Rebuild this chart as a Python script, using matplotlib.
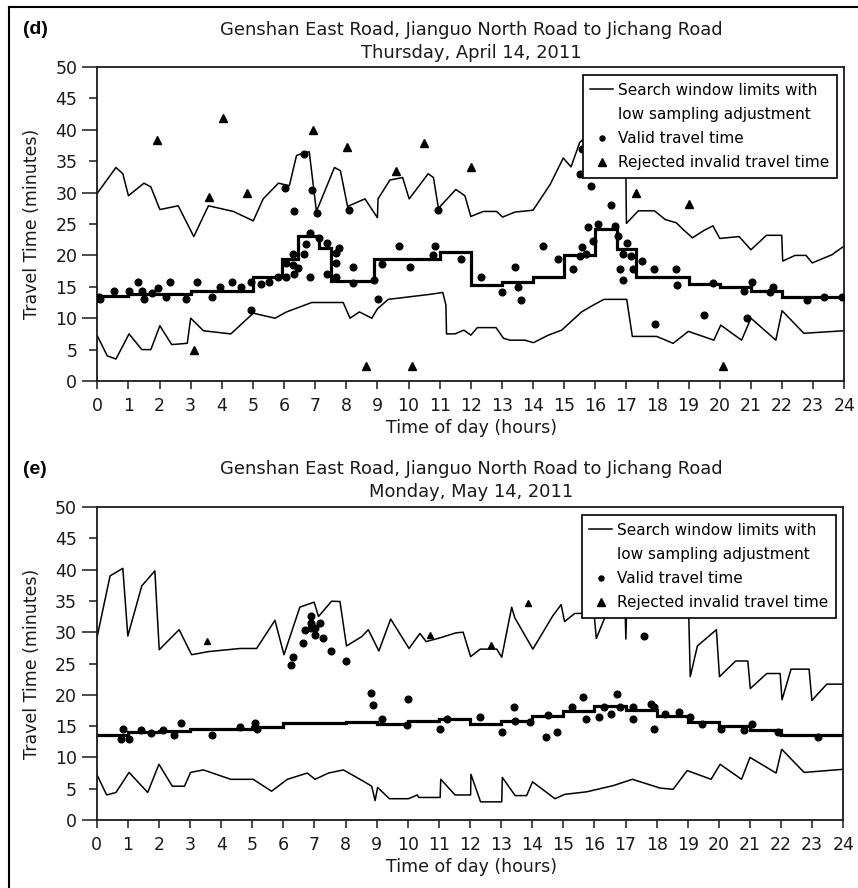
import matplotlib
matplotlib.use("Agg")
import matplotlib.pyplot as plt
from matplotlib.lines import Line2D

plt.rcParams['font.family'] = ['DejaVu Sans']
plt.rcParams['font.size'] = 12.5

# ---------------- Panel (d): Thursday, April 14, 2011 ----------------
d_upper_x = [0, 0.6, 0.82, 1.0, 1.5, 1.72, 2.01, 2.6, 3.1, 3.57,
             4.37, 5.01, 5.33, 5.82, 6.17, 6.4, 6.62, 6.81, 7.04, 7.62,
             7.81, 8.04, 8.6, 9.0, 9.02, 9.4, 9.81, 10.02, 10.63, 10.8,
             10.96, 11.52, 11.81, 12.0, 12.4, 12.83, 13.02, 13.42, 14.0, 14.55,
             14.97, 15.22, 15.5, 15.75, 16.2, 16.6, 16.97, 17.0, 17.38, 17.9,
             18.25, 18.6, 18.85, 19.12, 19.5, 19.78, 20.0, 20.62, 21.0, 21.5,
             21.99, 22.02, 22.42, 22.77, 22.97, 23.6, 24.0]
d_upper_y = [29.9, 34.0, 33.0, 29.5, 31.5, 30.9, 27.3, 27.9, 23.0, 27.9,
             27.0, 25.5, 29.0, 31.5, 31.1, 35.9, 36.3, 36.5, 27.0, 34.0,
             33.5, 27.8, 29.0, 26.0, 29.0, 32.0, 32.4, 29.0, 33.0, 32.4,
             27.5, 30.5, 29.5, 26.2, 27.0, 27.0, 26.1, 26.9, 27.2, 31.3,
             35.5, 34.1, 38.0, 39.0, 40.0, 40.5, 38.5, 25.1, 27.1, 27.1,
             25.7, 25.2, 24.0, 22.8, 24.0, 24.7, 22.7, 23.0, 20.9, 23.2,
             23.2, 19.1, 20.0, 20.0, 18.8, 20.1, 21.5]

d_lower_x = [0, 0.32, 0.6, 1.02, 1.43, 1.72, 2.01, 2.39, 2.89, 3.0,
             3.41, 4.29, 5.01, 5.71, 6.08, 6.46, 6.89, 7.9, 8.12, 8.42,
             8.82, 9.0, 9.35, 10.69, 11.1, 11.2, 11.22, 11.49, 11.78, 12.0,
             12.21, 12.81, 13.05, 13.26, 13.74, 14.01, 14.49, 14.92, 15.56, 15.94,
             16.28, 17.01, 17.19, 17.97, 18.5, 18.99, 19.81, 20.03, 20.7, 21.0,
             21.8, 22.0, 22.7, 24.0]
d_lower_y = [7.2, 4.0, 3.5, 7.5, 5.0, 5.0, 8.8, 5.8, 6.0, 10.0,
             8.0, 7.5, 10.8, 10.0, 11.0, 11.7, 12.5, 12.5, 10.0, 11.0,
             10.0, 11.5, 13.0, 13.8, 14.1, 12.1, 7.5, 7.5, 8.1, 7.3,
             8.5, 8.5, 6.8, 6.5, 6.5, 6.1, 7.3, 8.1, 11.0, 12.1,
             13.0, 13.0, 7.1, 7.1, 6.0, 7.9, 6.5, 8.9, 6.5, 10.0,
             6.5, 11.2, 7.6, 8.0]

d_step_edges = [0, 1, 3, 5, 5.92, 6.45, 7.12, 7.52, 8.9, 11, 12,
                13, 14, 15, 16, 16.7, 17.3, 19, 20, 21, 22, 24]
d_step_vals = [13.5, 13.85, 14.4, 16.6, 19.4, 23.1, 21.2, 16.0, 19.4, 20.5,
               15.3, 15.7, 16.5, 20.1, 24.2, 21.0, 16.5, 15.5, 14.9, 14.3, 13.4]

d_valid_x = [0.06, 0.1, 0.54, 1.03, 1.32, 1.43, 1.5, 1.75, 1.94, 2.2,
             2.34, 2.84, 3.19, 3.7, 3.94, 4.32, 4.61, 4.93, 4.93, 5.25,
             5.53, 5.82, 6.05, 6.05, 6.03, 6.28, 6.28, 6.32, 6.32, 6.44,
             6.65, 6.64, 6.71, 6.83, 6.83, 6.91, 7.05, 7.12, 7.39, 7.39,
             7.67, 7.67, 7.67, 7.78, 8.1, 8.23, 8.23, 8.89, 9.03, 9.14,
             9.7, 10.05, 10.8, 10.85, 10.96, 11.69, 12.33, 13.01, 13.42, 13.53,
             13.61, 14.31, 14.81, 15.27, 15.51, 15.58, 15.7, 15.92, 15.56, 15.51,
             15.85, 16.5, 15.78, 16.1, 16.63, 16.72, 16.79, 16.88, 16.88, 17.01,
             17.15, 17.22, 17.49, 17.89, 17.92, 18.59, 18.64, 19.49, 19.79, 20.79,
             20.86, 21.02, 21.61, 21.7, 22.79, 23.36, 23.94]
d_valid_y = [13.4, 13.0, 14.4, 14.4, 15.8, 14.4, 13.1, 14.0, 14.8, 13.4,
             15.8, 13.1, 15.7, 13.4, 14.9, 15.8, 14.9, 15.8, 11.3, 15.4,
             15.8, 16.6, 16.6, 18.8, 30.8, 20.3, 18.5, 17.1, 27.1, 18.0,
             20.2, 36.1, 21.8, 16.6, 23.6, 30.4, 26.7, 22.7, 21.9, 17.0,
             20.4, 18.8, 16.6, 21.1, 27.3, 18.1, 15.6, 16.1, 13.1, 18.7,
             21.5, 18.2, 20.1, 21.5, 27.3, 19.5, 16.5, 14.1, 18.1, 14.9,
             12.9, 21.5, 19.5, 17.9, 19.9, 21.4, 20.3, 22.3, 36.9, 33.0,
             31.1, 28.0, 24.6, 25.0, 24.7, 23.1, 17.9, 20.2, 16.1, 21.9,
             19.9, 17.9, 19.1, 17.9, 9.0, 17.9, 15.3, 10.5, 15.6, 14.4,
             10.1, 15.8, 14.1, 14.9, 12.9, 13.3, 13.3]

d_rej_x = [1.91, 3.6, 4.03, 4.8, 6.92, 8.01, 9.6, 10.5, 12.0, 17.31,
           19.0, 3.11, 8.62, 10.1, 20.09]
d_rej_y = [38.4, 29.3, 41.8, 30.0, 39.9, 37.3, 33.5, 37.9, 34.1, 30.0,
           28.2, 4.9, 2.4, 2.4, 2.4]

# ---------------- Panel (e): Monday, May 14, 2011 ----------------
e_upper_x = [0.02, 0.43, 0.84, 1.0, 1.45, 1.87, 2.01, 2.65, 3.05, 3.59,
             4.61, 5.14, 5.73, 6.02, 6.53, 6.99, 7.13, 7.55, 7.82, 8.03,
             8.52, 8.73, 9.07, 9.45, 10.04, 10.39, 10.59, 11.04, 11.55, 11.78,
             12.02, 12.33, 12.86, 13.02, 13.34, 13.44, 14.02, 14.66, 14.93, 15.04,
             15.37, 15.75, 15.97, 16.06, 16.34, 16.6, 16.98, 17.01, 17.04, 19.02,
             19.08, 19.31, 19.92, 20.02, 20.54, 20.93, 21.01, 21.54, 21.97, 22.03,
             22.32, 22.9, 22.99, 23.47, 24.0]
e_upper_y = [29.4, 39.0, 40.2, 29.4, 37.4, 39.8, 27.2, 30.4, 26.4, 26.9,
             27.4, 27.4, 31.9, 26.4, 34.0, 34.8, 32.5, 34.95, 34.9, 27.8,
             29.3, 30.4, 27.0, 32.1, 27.4, 29.8, 28.5, 29.1, 29.9, 30.0,
             26.1, 27.3, 27.3, 26.0, 34.0, 32.3, 27.3, 32.6, 34.4, 31.7,
             33.0, 33.0, 34.0, 29.0, 32.4, 35.0, 35.0, 28.9, 35.0, 35.0,
             22.9, 27.8, 30.4, 22.9, 25.4, 25.4, 21.0, 23.4, 23.4, 19.2,
             24.1, 24.1, 19.1, 21.7, 21.7]

e_lower_x = [0, 0.32, 0.62, 1.04, 1.64, 2.0, 2.43, 2.82, 3.02, 3.43,
             4.31, 5.03, 5.62, 6.13, 6.77, 7.02, 7.45, 7.93, 8.57, 8.84,
             8.95, 9.03, 9.41, 10.02, 10.31, 10.35, 11.04, 11.06, 11.52, 12.02,
             12.03, 12.34, 13.02, 13.04, 13.45, 13.82, 14.01, 14.73, 15.05, 15.75,
             16.61, 17.22, 18.11, 18.53, 18.98, 19.75, 20.04, 20.73, 21.0, 21.84,
             22.02, 22.74, 24.0]
e_lower_y = [7.3, 4.0, 4.4, 7.6, 4.4, 8.9, 5.4, 5.4, 7.6, 8.0,
             6.5, 6.5, 4.6, 6.5, 7.5, 6.5, 7.5, 8.0, 6.2, 5.4,
             3.1, 5.2, 3.4, 3.4, 4.0, 3.6, 3.6, 6.5, 4.0, 4.0,
             7.3, 2.9, 2.9, 6.8, 3.9, 3.9, 6.1, 3.4, 4.1, 4.5,
             5.5, 6.5, 5.1, 4.9, 7.9, 6.5, 8.9, 6.5, 10.0, 7.5,
             11.3, 7.6, 8.1]

e_step_edges = [0, 1, 2, 3, 5, 6, 8, 9, 10, 11, 12,
                13, 14, 15, 16, 17, 18, 19, 20, 21, 22, 24]
e_step_vals = [13.6, 14.0, 14.2, 14.5, 14.9, 15.5, 15.6, 15.3, 15.8, 16.1,
               15.4, 15.8, 16.6, 17.4, 18.2, 17.5, 16.6, 15.6, 15.0, 14.4, 13.6]

e_valid_x = [0.78, 0.86, 1.05, 1.41, 1.74, 2.14, 2.48, 2.7, 3.7, 4.61,
             5.09, 5.16, 6.25, 6.32, 6.62, 6.7, 6.89, 6.89, 6.89, 7.02,
             7.02, 7.18, 7.28, 7.52, 8.01, 8.81, 8.89, 9.16, 9.96, 10.02,
             11.04, 11.25, 12.32, 13.02, 13.42, 13.45, 13.92, 14.44, 14.52, 14.81,
             15.29, 15.64, 15.73, 16.15, 16.31, 16.52, 16.73, 16.82, 17.23, 17.23,
             17.6, 17.81, 17.91, 17.91, 18.27, 18.72, 19.07, 19.45, 20.06, 20.82,
             21.05, 21.91, 23.18]
e_valid_y = [12.9, 14.5, 12.9, 14.4, 13.9, 14.3, 13.6, 15.5, 13.6, 14.9,
             15.5, 14.5, 24.7, 26.1, 28.3, 30.4, 32.6, 31.4, 30.7, 30.7,
             29.5, 31.4, 29.1, 27.0, 25.4, 20.3, 18.3, 16.2, 15.1, 19.4,
             14.5, 16.1, 16.5, 14.0, 18.1, 15.8, 15.6, 13.3, 16.7, 14.1,
             18.0, 19.7, 16.2, 16.5, 18.0, 16.9, 20.1, 18.0, 18.0, 16.1,
             29.4, 18.5, 18.0, 14.5, 17.0, 17.3, 16.5, 15.4, 14.5, 14.4,
             15.4, 14.0, 13.3]

e_rej_x = [3.54, 10.72, 12.66, 13.88]
e_rej_y = [28.6, 29.5, 27.9, 34.6]

titles_d = ["Genshan East Road, Jianguo North Road to Jichang Road",
            "Thursday, April 14, 2011"]
titles_e = ["Genshan East Road, Jianguo North Road to Jichang Road",
            "Monday, May 14, 2011"]
legend_labels = ["Search window limits with", "low sampling adjustment",
                 "Valid travel time", "Rejected invalid travel time"]
x_ticks = list(range(0, 25))
y_major = [0, 10, 20, 30, 40, 50]
y_minor = [5, 15, 25, 35, 45]

W, H = 858, 888
fig = plt.figure(figsize=(W / 100, H / 100), dpi=100)

# outer frame
fig.add_artist(Line2D([9 / W, 1.0], [1 - 6.7 / H, 1 - 6.7 / H], color='k', lw=1.5,
                      transform=fig.transFigure))
fig.add_artist(Line2D([9 / W, 9 / W], [0, 1 - 6.7 / H], color='k', lw=1.5,
                      transform=fig.transFigure))

TXT = '#1a1a1a'


def panel(rect, ux, uy, lx, ly, sedges, svals, vx, vy, rx, ry, tri_ms):
    ax = fig.add_axes(rect)
    ax.plot(ux, uy, color='k', lw=1.1, zorder=2)
    ax.plot(lx, ly, color='k', lw=1.1, zorder=2)
    ax.stairs(svals, sedges, color='k', lw=2.3, zorder=3, baseline=None)
    ax.plot(vx, vy, ls='none', marker='o', ms=4.8, color='k', zorder=4)
    ax.plot(rx, ry, ls='none', marker='^', ms=tri_ms, color='k', zorder=4)
    ax.set_xlim(0, 24)
    ax.set_ylim(0, 50)
    ax.set_xticks(x_ticks)
    ax.set_xticklabels([str(t) for t in x_ticks])
    ax.set_yticks(y_major)
    ax.set_yticklabels([str(t) for t in y_major])
    ax.set_yticks(y_minor, minor=True)
    ax.set_yticklabels([str(t) for t in y_minor], minor=True)
    ax.tick_params(axis='y', which='major', length=10.8, pad=3.6, width=1.1,
                   labelsize=12.5, colors=TXT)
    ax.tick_params(axis='y', which='minor', length=5.8, pad=8.6, width=1.1,
                   labelsize=12.5, colors=TXT)
    ax.tick_params(axis='x', which='major', length=5.8, pad=6.0, width=1.1,
                   labelsize=12.5, colors=TXT)
    for s in ax.spines.values():
        s.set_linewidth(1.3)
        s.set_color(TXT)
    handles = [Line2D([], [], color='k', lw=1.1),
               Line2D([], [], ls='none'),
               Line2D([], [], ls='none', marker='o', ms=3.6, color='k'),
               Line2D([], [], ls='none', marker='^', ms=5.2, color='k')]
    leg = ax.legend(handles, legend_labels, loc='upper right',
                    bbox_to_anchor=(0.990, 0.9745), bbox_transform=ax.transAxes,
                    borderaxespad=0, fancybox=False, edgecolor='k', framealpha=1,
                    fontsize=11.0, handlelength=1.5, handletextpad=0.3,
                    borderpad=0.5, labelspacing=0.6)
    leg.get_frame().set_linewidth(1.2)
    return ax


ax_d = panel([97.3 / W, 1 - 381 / H, 747 / W, 314 / H],
             d_upper_x, d_upper_y, d_lower_x, d_lower_y,
             d_step_edges, d_step_vals, d_valid_x, d_valid_y, d_rej_x, d_rej_y, 6.3)
ax_e = panel([96.7 / W, 1 - 820 / H, 746.6 / W, 313 / H],
             e_upper_x, e_upper_y, e_lower_x, e_lower_y,
             e_step_edges, e_step_vals, e_valid_x, e_valid_y, e_rej_x, e_rej_y, 3.8)

cx = 471 / W
# titles and labels
for (tl, y1, y2, lab, ylab_c, xlab_y) in [
        (titles_d, 30, 53, "(d)", 224, 428),
        (titles_e, 469, 492, "(e)", 663.5, 867)]:
    fig.text(cx, 1 - y1 / H, tl[0], ha='center', va='center', fontsize=12.9,
             color=TXT)
    fig.text(cx, 1 - y2 / H, tl[1], ha='center', va='center', fontsize=12.9,
             color=TXT)
    fig.text(23 / W, 1 - y1 / H, lab, ha='left', va='center', fontsize=14,
             fontweight='bold', family=['Liberation Sans', 'DejaVu Sans'])
    fig.text(31.7 / W, 1 - ylab_c / H, "Travel Time (minutes)", rotation=90,
             ha='center', va='center', fontsize=12.5, color=TXT)
    fig.text(cx, 1 - xlab_y / H, "Time of day (hours)", ha='center', va='center',
             fontsize=12.5, color=TXT)

fig.savefig("out.png", dpi=100)
